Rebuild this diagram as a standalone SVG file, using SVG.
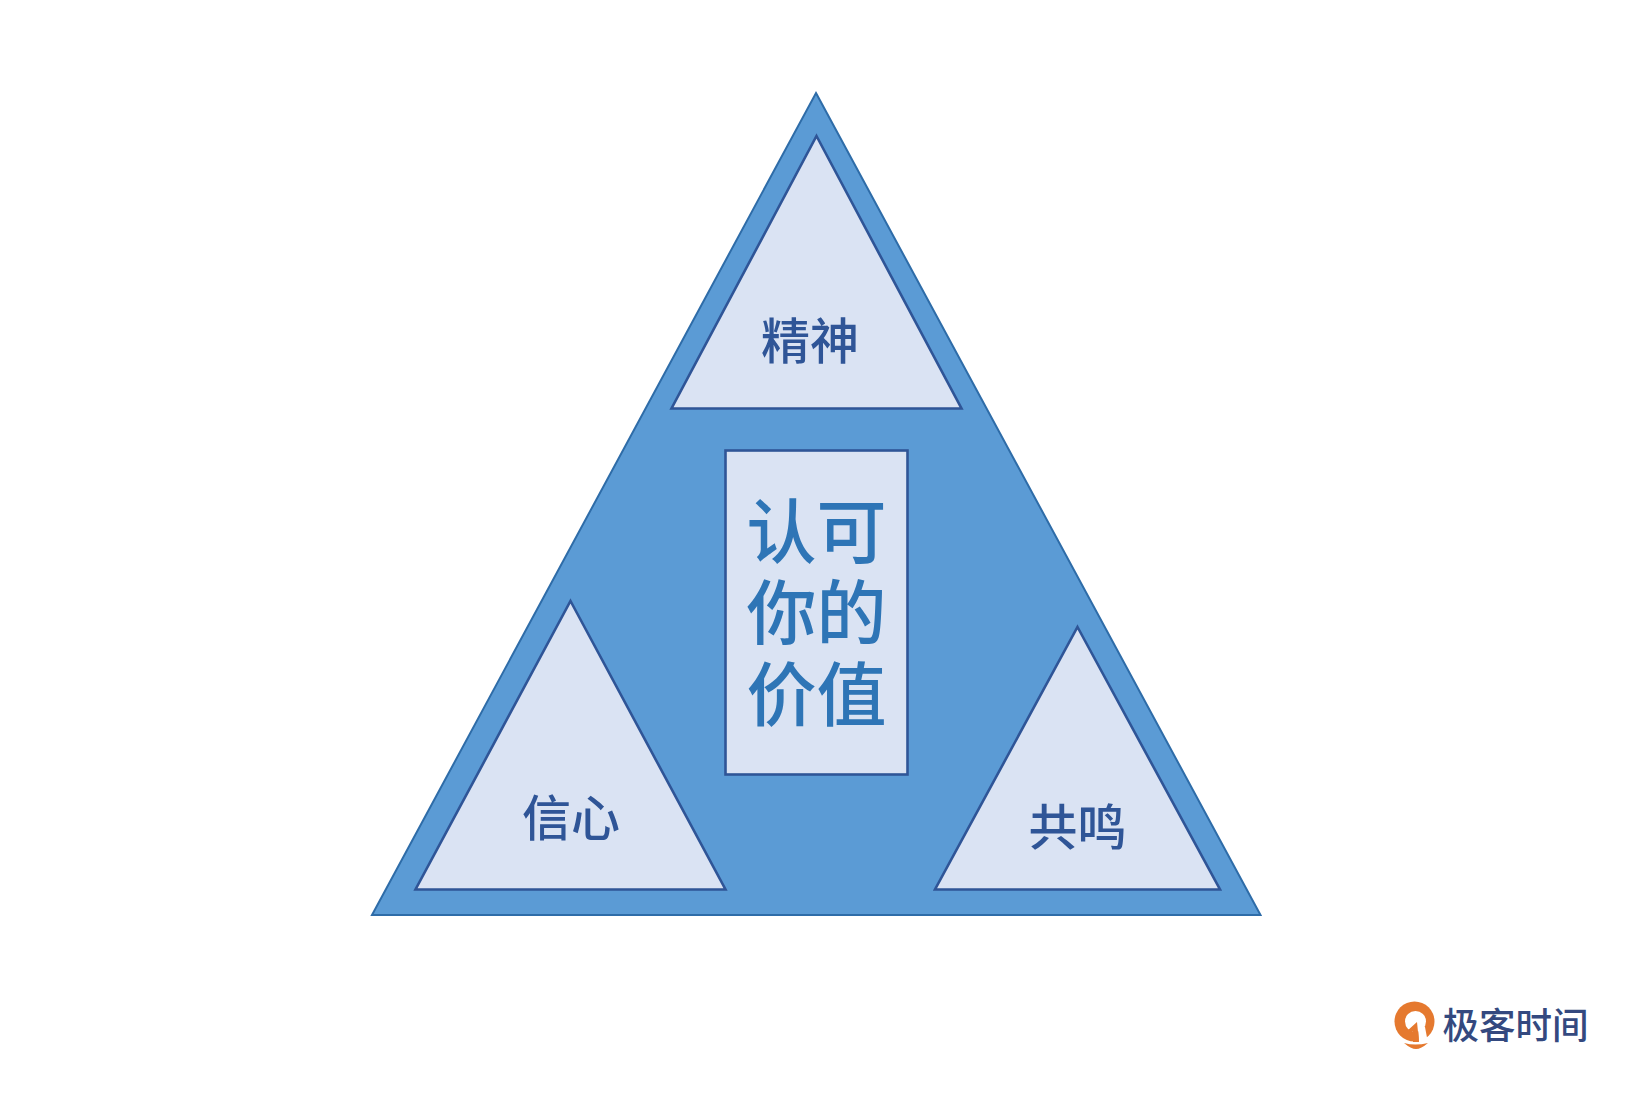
<svg xmlns="http://www.w3.org/2000/svg" width="1640" height="1109" viewBox="0 0 1640 1109">
<style>
text{font-family:"Noto Sans CJK SC","Noto Sans",sans-serif;text-anchor:middle;font-weight:500}
.inner{fill:#dae3f3;stroke:#2f5597;stroke-width:2.6;stroke-linejoin:miter}
.small{font-size:49px;fill:#2f5597}
.big{font-size:70px;fill:#2e75b6}
</style>
<rect width="1640" height="1109" fill="#fff"/>
<g id="outer"><polygon points="816,93 1260.500,915 372,915" fill="#5b9bd5" stroke="#2e6ca8" stroke-width="2"/></g>
<g id="top"><polygon class="inner" points="816.500,136 961.500,408.500 671.500,408.500"/><text class="small" x="810" y="359">精神</text></g>
<g id="left"><polygon class="inner" points="570.500,601 725.500,889.500 415.500,889.500"/><text class="small" x="571" y="836">信心</text></g>
<g id="right"><polygon class="inner" points="1077.500,627 1220,889.500 935,889.500"/><text class="small" x="1077.500" y="845">共鸣</text></g>
<g id="center"><rect class="inner" x="725.500" y="450.500" width="182" height="324"/>
<text class="big"><tspan x="816.500" y="558">认可</tspan><tspan x="816.500" y="639">你的</tspan><tspan x="816.500" y="721">价值</tspan></text></g>
<g id="logo">
<circle cx="1414.500" cy="1021.500" r="20" fill="#e5792f"/>
<circle cx="1415.500" cy="1021.500" r="10.500" fill="#fff"/>
<polygon points="1418,1025 1425,1027 1428,1043 1419,1043" fill="#fff"/>
<polygon points="1417,1022 1407,1031 1410,1034 1413,1031 1413,1042 1419,1042" fill="#e5792f"/>
<path d="M1404 1043q11 3 24 0q-7 6-12 6q-5 0-12-6z" fill="#e5792f"/>
<text x="1515.500" y="1039" font-size="36.500" fill="#34497f">极客时间</text>
</g>
</svg>
